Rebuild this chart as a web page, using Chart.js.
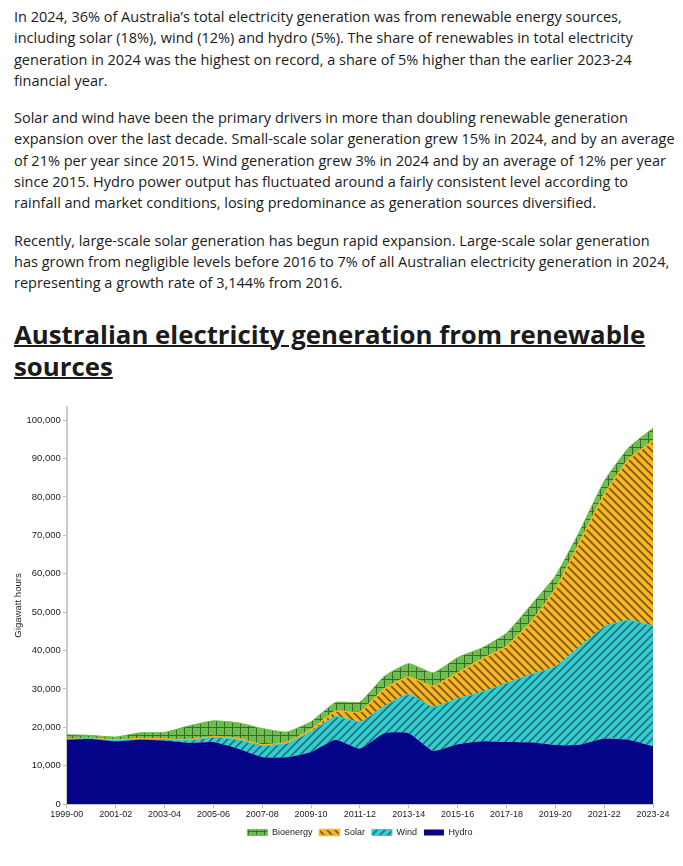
<!DOCTYPE html>
<html>
<head>
<meta charset="utf-8">
<script src="https://cdn.jsdelivr.net/npm/chart.js@4.4.1/dist/chart.umd.min.js"></script>
<style>
  body { margin: 0; background: #fff; font-family: "Open Sans", sans-serif; color: #1b1b1b; }
  .text { padding: 6px 0 0 14px; font-size: 14.5px; line-height: 21.3px; white-space: nowrap; }
  .text p { margin: 0 0 16px 0; }
  h2 { margin: 24px 0 0 14px; font-size: 25.8px; line-height: 32px; font-weight: 700; text-decoration: underline; text-decoration-thickness: 2px; color: #1b1b1b; }
  #wrap { position: relative; width: 683px; height: 456px; margin-top: 17px; }
</style>
</head>
<body>
<div class="text">
  <p>In 2024, 36% of Australia’s total electricity generation was from renewable energy sources,<br>including solar (18%), wind (12%) and hydro (5%). The share of renewables in total electricity<br>generation in 2024 was the highest on record, a share of 5% higher than the earlier 2023-24<br>financial year.</p>
  <p>Solar and wind have been the primary drivers in more than doubling renewable generation<br>expansion over the last decade. Small-scale solar generation grew 15% in 2024, and by an average<br>of 21% per year since 2015. Wind generation grew 3% in 2024 and by an average of 12% per year<br>since 2015. Hydro power output has fluctuated around a fairly consistent level according to<br>rainfall and market conditions, losing predominance as generation sources diversified.</p>
  <p>Recently, large-scale solar generation has begun rapid expansion. Large-scale solar generation<br>has grown from negligible levels before 2016 to 7% of all Australian electricity generation in 2024,<br>representing a growth rate of 3,144% from 2016.</p>
</div>
<h2>Australian electricity generation from renewable<br>sources</h2>
<div id="wrap"><canvas id="chart"></canvas></div>
<script>
'use strict';

// financial years
var years = ['1999-00', '2000-01', '2001-02', '2002-03', '2003-04', '2004-05', '2005-06', '2006-07',
  '2007-08', '2008-09', '2009-10', '2010-11', '2011-12', '2012-13', '2013-14', '2014-15', '2015-16',
  '2016-17', '2017-18', '2018-19', '2019-20', '2020-21', '2021-22', '2022-23', '2023-24'];

// gigawatt hours
var hydro = [16800, 17000, 16400, 16800, 16600, 16000, 16200, 14500, 12300, 12200, 13600, 16800, 14500,
  18500, 18500, 13900, 15600, 16400, 16200, 16100, 15400, 15500, 17100, 16800, 15100];
var wind = [50, 50, 100, 100, 200, 600, 1200, 2300, 2900, 3600, 5300, 6000, 6900, 7000, 10100, 11400,
  11900, 12800, 15300, 17700, 20400, 25500, 29100, 31100, 31300];
var solar = [150, 150, 200, 200, 200, 200, 200, 300, 300, 300, 500, 1400, 2600, 4500, 4500, 5400, 6700,
  8600, 9600, 13600, 20200, 27300, 34400, 41900, 48200];
var bioenergy = [1100, 700, 800, 1500, 1700, 3600, 4100, 4100, 4200, 2700, 2100, 2300, 2600, 3300, 3500,
  3500, 4000, 2900, 3400, 4400, 3400, 2800, 3500, 3000, 3300];

var yTicks = [0, 10000, 20000, 30000, 40000, 50000, 60000, 70000, 80000, 90000, 100000];

// small tiles used as fills
function makePattern(bg, fg, kind) {
  var size = 8;
  var c = document.createElement('canvas');
  c.width = size; c.height = size;
  var g = c.getContext('2d');
  g.fillStyle = bg;
  g.fillRect(0, 0, size, size);
  g.strokeStyle = fg;
  if (kind === 'grid') {
    g.lineWidth = 1;
    g.beginPath();
    g.moveTo(0, 0.5); g.lineTo(size, 0.5);
    g.moveTo(0.5, 0); g.lineTo(0.5, size);
    g.stroke();
  } else {
    g.lineWidth = 1.8;
    g.beginPath();
    if (kind === 'slash') {
      g.moveTo(-1, size + 1); g.lineTo(size + 1, -1);
      g.moveTo(-1, 1); g.lineTo(1, -1);
      g.moveTo(size - 1, size + 1); g.lineTo(size + 1, size - 1);
    } else {
      g.moveTo(-1, -1); g.lineTo(size + 1, size + 1);
      g.moveTo(size - 1, -1); g.lineTo(size + 1, 1);
      g.moveTo(-1, size - 1); g.lineTo(1, size + 1);
    }
    g.stroke();
  }
  return g.createPattern(c, 'repeat');
}

var hydroFill = '#05058a';
var windFill = makePattern('#30cfd4', '#2b7378', 'slash');
var solarFill = makePattern('#fdb51c', '#725a1f', 'back');
var bioFill = makePattern('#6cbf4a', '#3d6a2c', 'grid');

var labelFont = 'Liberation Sans, Arial, sans-serif';

var ctx = document.getElementById('chart').getContext('2d');
new Chart(ctx, {
  type: 'line',
  data: {
    labels: years,
    datasets: [
      { label: 'Hydro', data: hydro, backgroundColor: hydroFill, borderColor: '#05058a', borderWidth: 0, fill: 'origin' },
      { label: 'Wind', data: wind, backgroundColor: windFill, borderColor: '#30cfd4', borderWidth: 1, fill: '-1' },
      { label: 'Solar', data: solar, backgroundColor: solarFill, borderColor: '#fdb51c', borderWidth: 1.5, fill: '-1' },
      { label: 'Bioenergy', data: bioenergy, backgroundColor: bioFill, borderColor: '#6cbf4a', borderWidth: 1, fill: '-1' }
    ]
  },
  options: {
    responsive: true,
    maintainAspectRatio: false,
    animation: false,
    elements: { point: { radius: 0, hoverRadius: 0 }, line: { tension: 0.15 } },
    layout: { padding: { left: 9, right: 30, top: 0, bottom: 8 } },
    plugins: {
      legend: {
        position: 'bottom',
        fullSize: false,
        reverse: true,
        labels: {
          boxWidth: 20, boxHeight: 6, padding: 7,
          color: '#222',
          font: { family: labelFont, size: 9 }
        }
      },
      tooltip: { enabled: false }
    },
    scales: {
      x: {
        grid: {
          drawOnChartArea: false,
          tickLength: 4,
          color: function(c) { return c.index % 2 === 0 ? '#bbb' : 'rgba(0,0,0,0)'; }
        },
        border: { color: '#ccc', width: 2 },
        ticks: {
          autoSkip: false, maxRotation: 0, padding: 1,
          color: '#222',
          font: { family: labelFont, size: 9 },
          callback: function(v, i) { return i % 2 === 0 ? years[i] : ''; }
        }
      },
      y: {
        stacked: true,
        min: 0,
        max: 103500,
        afterBuildTicks: function(axis) {
          axis.ticks = yTicks.map(function(v) { return { value: v }; });
        },
        grid: { drawOnChartArea: false, tickLength: 4, color: '#bbb' },
        border: { color: '#ccc', width: 2 },
        title: {
          display: true, text: 'Gigawatt hours', color: '#222',
          padding: { top: 4, bottom: 0 },
          font: { family: labelFont, size: 9.6 }
        },
        ticks: {
          color: '#222', padding: 2,
          font: { family: labelFont, size: 9.5 },
          callback: function(v) { return v.toLocaleString('en-US'); }
        }
      }
    }
  }
});
</script>
</body>
</html>
